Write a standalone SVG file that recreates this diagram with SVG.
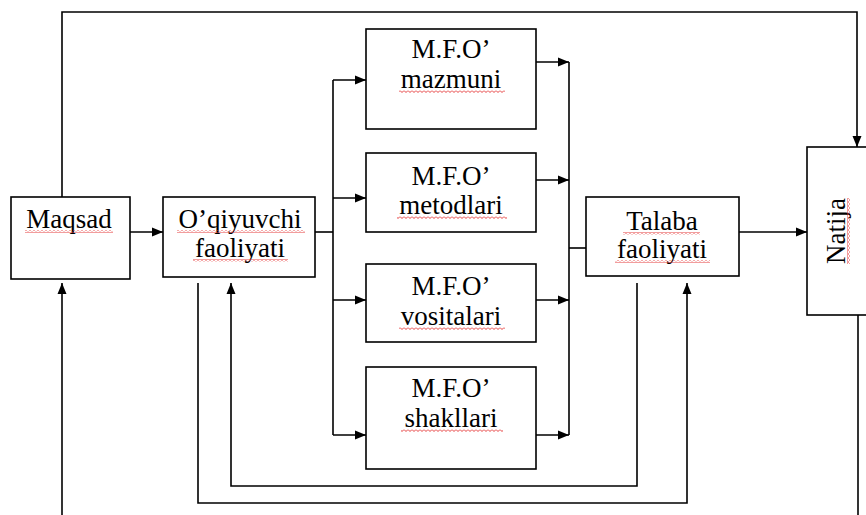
<svg xmlns="http://www.w3.org/2000/svg" width="866" height="515" viewBox="0 0 866 515">
<style>
.box{fill:#fff;stroke:#000;stroke-width:1.6}
.t{font-family:"Liberation Serif","Times New Roman",serif;font-size:27px;fill:#000;text-anchor:middle}
.c{fill:none;stroke:#000;stroke-width:1.6}
.sq{fill:url(#sqh)}
.sqv{fill:url(#sqv)}
</style>
<defs>
<marker id="ah" markerUnits="userSpaceOnUse" markerWidth="12" markerHeight="10" refX="11" refY="5" orient="auto">
<path d="M0,0.5 L11,5 L0,9.5 z" fill="#000"/>
</marker>
<pattern id="sqh" patternUnits="userSpaceOnUse" width="4" height="3">
<path d="M0 0.5 L2 2.5 L4 0.5" fill="none" stroke="#e53b3b" stroke-width="1"/>
</pattern>
<pattern id="sqv" patternUnits="userSpaceOnUse" width="3" height="4">
<path d="M0.5 0 L2.5 2 L0.5 4" fill="none" stroke="#e53b3b" stroke-width="1"/>
</pattern>
</defs>

<g id="connectors">
<path class="c" d="M62,197 V12 H857 V147" marker-end="url(#ah)"/>
<path class="c" d="M62,515 V283" marker-end="url(#ah)"/>
<path class="c" d="M130,232 H163" marker-end="url(#ah)"/>
<path class="c" d="M315,232 H333"/>
<path class="c" d="M333,80 V435"/>
<path class="c" d="M333,80 H366" marker-end="url(#ah)"/>
<path class="c" d="M333,198 H366" marker-end="url(#ah)"/>
<path class="c" d="M333,300 H366" marker-end="url(#ah)"/>
<path class="c" d="M333,435 H366" marker-end="url(#ah)"/>
<path class="c" d="M536,62 H569" marker-end="url(#ah)"/>
<path class="c" d="M536,180 H569" marker-end="url(#ah)"/>
<path class="c" d="M536,300 H569" marker-end="url(#ah)"/>
<path class="c" d="M536,435 H569" marker-end="url(#ah)"/>
<path class="c" d="M569,62 V435"/>
<path class="c" d="M569,248 H586"/>
<path class="c" d="M739,232 H807" marker-end="url(#ah)"/>
<path class="c" d="M858,315 V515"/>
<path class="c" d="M637,283 V486 H231 V283" marker-end="url(#ah)"/>
<path class="c" d="M198,283 V503 H687 V283" marker-end="url(#ah)"/>
</g>

<g id="maqsad">
<rect class="box" x="11" y="197" width="119" height="82"/>
<text class="t" x="69" y="228">Maqsad</text>
<rect class="sq" x="25" y="230" width="88" height="3"/>
</g>

<g id="oqiyuvchi">
<rect class="box" x="163" y="197" width="152" height="80"/>
<text class="t" x="240" y="228">O’qiyuvchi</text>
<text class="t" x="240" y="257">faoliyati</text>
<rect class="sq" x="177" y="230" width="128" height="3"/>
<rect class="sq" x="193" y="259" width="95" height="3"/>
</g>

<g id="mazmuni">
<rect class="box" x="366" y="29" width="170" height="100"/>
<text class="t" x="451" y="58">M.F.O’</text>
<text class="t" x="451" y="88">mazmuni</text>
<rect class="sq" x="399" y="90" width="106" height="3"/>
</g>

<g id="metodlari">
<rect class="box" x="366" y="153" width="170" height="79"/>
<text class="t" x="451" y="185">M.F.O’</text>
<text class="t" x="451" y="214">metodlari</text>
<rect class="sq" x="397" y="216" width="110" height="3"/>
</g>

<g id="vositalari">
<rect class="box" x="366" y="264" width="170" height="78"/>
<text class="t" x="451" y="295">M.F.O’</text>
<text class="t" x="451" y="325">vositalari</text>
<rect class="sq" x="399" y="327" width="106" height="3"/>
</g>

<g id="shakllari">
<rect class="box" x="366" y="367" width="170" height="102"/>
<text class="t" x="451" y="397">M.F.O’</text>
<text class="t" x="451" y="427">shakllari</text>
<rect class="sq" x="401" y="429" width="102" height="3"/>
</g>

<g id="talaba">
<rect class="box" x="586" y="197" width="153" height="79"/>
<text class="t" x="662" y="230">Talaba</text>
<text class="t" x="662" y="258">faoliyati</text>
<rect class="sq" x="623" y="232" width="77" height="3"/>
<rect class="sq" x="615" y="260" width="95" height="3"/>
</g>

<g id="natija">
<rect class="box" x="807" y="147" width="70" height="168"/>
<text class="t" transform="translate(845,231) rotate(-90)" x="0" y="0">Natija</text>
<rect class="sqv" x="847" y="198" width="3" height="66"/>
</g>
</svg>
